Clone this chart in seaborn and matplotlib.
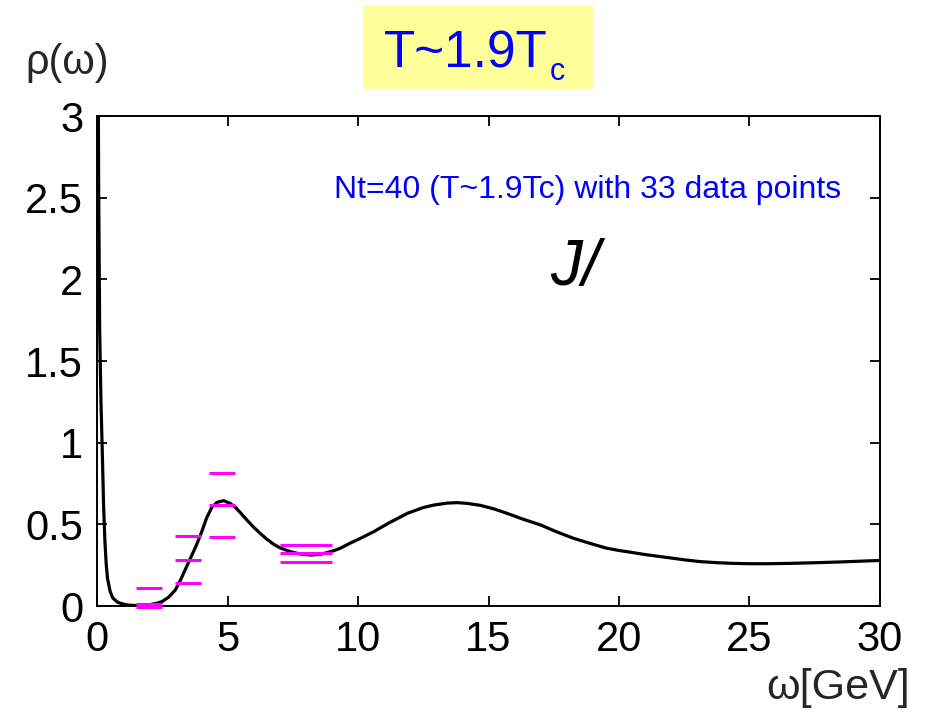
import matplotlib
matplotlib.use("Agg")
import matplotlib.pyplot as plt
from matplotlib.patches import Rectangle
import pandas as pd
import seaborn as sns

# spectral function
omega = [0.0, 0.03, 0.06, 0.1, 0.15, 0.2, 0.25, 0.3, 0.35, 0.4, 0.5, 0.6, 0.7, 0.8,
         1.0, 1.2, 1.5, 1.8, 2.0, 2.3, 2.5, 2.75, 3.0, 3.2, 3.4, 3.6, 3.8, 4.0,
         4.2, 4.4, 4.6, 4.85, 5.1, 5.3, 5.5, 5.75, 6.0, 6.25, 6.5, 6.75, 7.0,
         7.4, 7.8, 8.2, 8.6, 9.0, 9.3, 9.7, 10.1, 10.6, 11.2, 11.9, 12.5, 12.9,
         13.4, 13.8, 14.2, 14.7, 15.2, 15.7, 16.3, 17.0, 17.6, 18.25, 18.9, 19.5,
         20.0, 20.5, 21.0, 21.8, 22.5, 23.1, 23.8, 24.4, 25.0, 25.7, 26.5, 27.5,
         28.5, 29.5, 30.0]
rho = [6.0, 4.0, 2.6, 1.7, 1.25, 0.95, 0.62, 0.4, 0.26, 0.17, 0.09, 0.05, 0.035, 0.022,
       0.012, 0.006, 0.003, 0.004, 0.008, 0.017, 0.028, 0.055, 0.098, 0.16, 0.23, 0.3,
       0.37, 0.45, 0.54, 0.605, 0.635, 0.645, 0.628, 0.605, 0.57, 0.525, 0.483, 0.445,
       0.41, 0.38, 0.357, 0.333, 0.318, 0.312, 0.318, 0.335, 0.352, 0.385, 0.415,
       0.455, 0.51, 0.568, 0.603, 0.618, 0.63, 0.633, 0.628, 0.616, 0.595, 0.568,
       0.533, 0.496, 0.455, 0.415, 0.383, 0.355, 0.34, 0.328, 0.315, 0.298, 0.283,
       0.272, 0.265, 0.261, 0.259, 0.259, 0.261, 0.265, 0.27, 0.276, 0.279]

# binned data bars (upper / central / lower)
bin_lo = [1.5, 3.0, 4.3, 7.0]
bin_hi = [2.5, 4.0, 5.3, 9.0]
rho_upper = [0.109, 0.428, 0.817, 0.373]
rho_mid = [0.012, 0.283, 0.619, 0.322]
rho_lower = [-0.006, 0.141, 0.422, 0.272]

x_ticks = [0, 5, 10, 15, 20, 25, 30]
y_ticks = [0, 0.5, 1, 1.5, 2, 2.5, 3]
y_tick_labels = ["0", "0.5", "1", "1.5", "2", "2.5", "3"]


def main():
    sns.set_style("ticks")
    plt.rcParams["font.family"] = ["Liberation Sans", "DejaVu Sans"]
    plt.rcParams["xtick.direction"] = "in"
    plt.rcParams["ytick.direction"] = "in"

    fig = plt.figure(figsize=(9.26, 7.25), dpi=100)
    ax = fig.add_axes([0.1048, 0.1641, 0.8455, 0.6759])

    df = pd.DataFrame({"omega": omega, "rho": rho})
    sns.lineplot(data=df, x="omega", y="rho", color="black", lw=2.3, ax=ax)

    for vals in (rho_upper, rho_mid, rho_lower):
        ax.hlines(vals, bin_lo, bin_hi, colors="#ff00ff", lw=2.2, clip_on=False, zorder=3)

    ax.set_xlim(0, 30)
    ax.set_ylim(0, 3)
    ax.set_xticks(x_ticks)
    ax.set_yticks(y_ticks)
    ax.set_yticklabels(y_tick_labels)
    ax.tick_params(axis="both", labelsize=30, length=7, width=1.3,
                   top=True, right=True, colors="black")
    ax.tick_params(axis="x", pad=10)
    ax.tick_params(axis="y", pad=10)
    for s in ax.spines.values():
        s.set_linewidth(1.4)
        s.set_color("black")
    ax.set_xlabel("")
    ax.set_ylabel("")

    fig.text(67 / 926, 1 - 63 / 725, "ρ(ω)", ha="center", va="center", fontsize=30)
    fig.text(910 / 926, 1 - 688 / 725, "ω[GeV]", ha="right", va="center", fontsize=31)

    # title box
    fig.patches.append(Rectangle((363 / 926, 1 - 89 / 725), 230 / 926, 84 / 725,
                                 transform=fig.transFigure, facecolor="#ffff99",
                                 edgecolor="none", zorder=0))
    fig.text(384 / 926, 1 - 67 / 725, "T~1.9T", ha="left", va="baseline",
             fontsize=37, color="#0000ff")
    fig.text(550 / 926, 1 - 80 / 725, "c", ha="left", va="baseline",
             fontsize=22, color="#0000ff")

    ax.text(0.626, 0.85, "Nt=40 (T~1.9Tc) with 33 data points", transform=ax.transAxes,
            ha="center", va="center", fontsize=23, color="#0000ff")
    ax.text(0.61, 0.69, "J/", transform=ax.transAxes, ha="center", va="center",
            fontsize=46, style="italic", color="black")

    fig.savefig("out.png", dpi=100)


if __name__ == "__main__":
    main()
